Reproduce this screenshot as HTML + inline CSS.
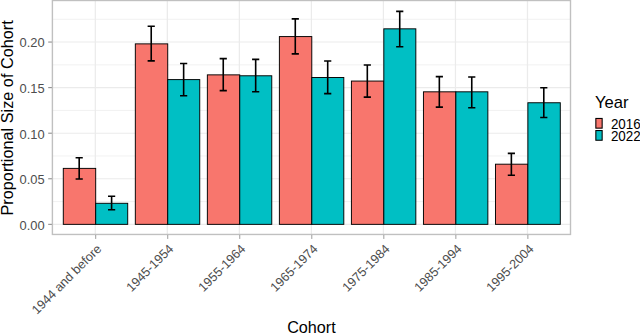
<!DOCTYPE html>
<html><head><meta charset="utf-8"><title>Cohort chart</title>
<style>html,body{margin:0;padding:0;background:#fff;overflow:hidden}body{width:640px;height:334px;position:relative;font-family:"Liberation Sans",sans-serif}</style></head>
<body>
<svg width="640" height="334" viewBox="0 0 640 334" style="display:block;position:absolute;left:0;top:0" font-family="Liberation Sans, sans-serif">
<rect x="0" y="0" width="640" height="334" fill="#fff"/>
<line x1="52.4" x2="570.5" y1="201.56" y2="201.56" stroke="#EBEBEB" stroke-width="0.7"/>
<line x1="52.4" x2="570.5" y1="155.99" y2="155.99" stroke="#EBEBEB" stroke-width="0.7"/>
<line x1="52.4" x2="570.5" y1="110.41" y2="110.41" stroke="#EBEBEB" stroke-width="0.7"/>
<line x1="52.4" x2="570.5" y1="64.84" y2="64.84" stroke="#EBEBEB" stroke-width="0.7"/>
<line x1="52.4" x2="570.5" y1="19.26" y2="19.26" stroke="#EBEBEB" stroke-width="0.7"/>
<line x1="52.4" x2="570.5" y1="224.35" y2="224.35" stroke="#EBEBEB" stroke-width="1.07"/>
<line x1="52.4" x2="570.5" y1="178.77" y2="178.77" stroke="#EBEBEB" stroke-width="1.07"/>
<line x1="52.4" x2="570.5" y1="133.20" y2="133.20" stroke="#EBEBEB" stroke-width="1.07"/>
<line x1="52.4" x2="570.5" y1="87.62" y2="87.62" stroke="#EBEBEB" stroke-width="1.07"/>
<line x1="52.4" x2="570.5" y1="42.05" y2="42.05" stroke="#EBEBEB" stroke-width="1.07"/>
<line x1="95.30" x2="95.30" y1="0.5" y2="234.45" stroke="#EBEBEB" stroke-width="1.25"/>
<line x1="167.33" x2="167.33" y1="0.5" y2="234.45" stroke="#EBEBEB" stroke-width="1.25"/>
<line x1="239.36" x2="239.36" y1="0.5" y2="234.45" stroke="#EBEBEB" stroke-width="1.25"/>
<line x1="311.39" x2="311.39" y1="0.5" y2="234.45" stroke="#EBEBEB" stroke-width="1.25"/>
<line x1="383.42" x2="383.42" y1="0.5" y2="234.45" stroke="#EBEBEB" stroke-width="1.25"/>
<line x1="455.45" x2="455.45" y1="0.5" y2="234.45" stroke="#EBEBEB" stroke-width="1.25"/>
<line x1="527.48" x2="527.48" y1="0.5" y2="234.45" stroke="#EBEBEB" stroke-width="1.25"/>
<rect x="63.29" y="168.38" width="32.41" height="55.97" fill="#F8766D" stroke="#000" stroke-width="0.95"/>
<rect x="95.70" y="203.29" width="32.01" height="21.06" fill="#00BFC4" stroke="#000" stroke-width="0.95"/>
<path d="M75.59 157.81H82.79M79.19 157.81V178.96M75.59 178.96H82.79" fill="none" stroke="#000" stroke-width="1.6"/>
<path d="M108.01 196.18H115.21M111.61 196.18V209.77M108.01 209.77H115.21" fill="none" stroke="#000" stroke-width="1.6"/>
<rect x="135.32" y="43.87" width="32.41" height="180.48" fill="#F8766D" stroke="#000" stroke-width="0.95"/>
<rect x="167.73" y="79.60" width="32.01" height="144.75" fill="#00BFC4" stroke="#000" stroke-width="0.95"/>
<path d="M147.62 26.19H154.82M151.22 26.19V60.83M147.62 60.83H154.82" fill="none" stroke="#000" stroke-width="1.6"/>
<path d="M180.04 63.56H187.24M183.64 63.56V95.74M180.04 95.74H187.24" fill="none" stroke="#000" stroke-width="1.6"/>
<rect x="207.35" y="74.86" width="32.41" height="149.49" fill="#F8766D" stroke="#000" stroke-width="0.95"/>
<rect x="239.76" y="75.78" width="32.01" height="148.57" fill="#00BFC4" stroke="#000" stroke-width="0.95"/>
<path d="M219.65 58.64H226.85M223.25 58.64V90.63M219.65 90.63H226.85" fill="none" stroke="#000" stroke-width="1.6"/>
<path d="M252.07 59.37H259.27M255.67 59.37V91.82M252.07 91.82H259.27" fill="none" stroke="#000" stroke-width="1.6"/>
<rect x="279.38" y="36.58" width="32.41" height="187.77" fill="#F8766D" stroke="#000" stroke-width="0.95"/>
<rect x="311.79" y="77.51" width="32.01" height="146.84" fill="#00BFC4" stroke="#000" stroke-width="0.95"/>
<path d="M291.68 18.90H298.88M295.28 18.90V53.90M291.68 53.90H298.88" fill="none" stroke="#000" stroke-width="1.6"/>
<path d="M324.10 61.01H331.30M327.70 61.01V93.64M324.10 93.64H331.30" fill="none" stroke="#000" stroke-width="1.6"/>
<rect x="351.41" y="81.06" width="32.41" height="143.29" fill="#F8766D" stroke="#000" stroke-width="0.95"/>
<rect x="383.82" y="28.83" width="32.01" height="195.52" fill="#00BFC4" stroke="#000" stroke-width="0.95"/>
<path d="M363.71 65.02H370.91M367.31 65.02V97.10M363.71 97.10H370.91" fill="none" stroke="#000" stroke-width="1.6"/>
<path d="M396.13 11.33H403.33M399.73 11.33V46.79M396.13 46.79H403.33" fill="none" stroke="#000" stroke-width="1.6"/>
<rect x="423.44" y="91.82" width="32.41" height="132.53" fill="#F8766D" stroke="#000" stroke-width="0.95"/>
<rect x="455.85" y="91.82" width="32.01" height="132.53" fill="#00BFC4" stroke="#000" stroke-width="0.95"/>
<path d="M435.74 76.60H442.94M439.34 76.60V107.13M435.74 107.13H442.94" fill="none" stroke="#000" stroke-width="1.6"/>
<path d="M468.16 76.96H475.36M471.76 76.96V107.68M468.16 107.68H475.36" fill="none" stroke="#000" stroke-width="1.6"/>
<rect x="495.47" y="164.19" width="32.41" height="60.16" fill="#F8766D" stroke="#000" stroke-width="0.95"/>
<rect x="527.88" y="102.76" width="32.41" height="121.59" fill="#00BFC4" stroke="#000" stroke-width="0.95"/>
<path d="M507.77 153.34H514.97M511.37 153.34V175.31M507.77 175.31H514.97" fill="none" stroke="#000" stroke-width="1.6"/>
<path d="M540.19 87.81H547.39M543.79 87.81V117.52M540.19 117.52H547.39" fill="none" stroke="#000" stroke-width="1.6"/>
<rect x="52.4" y="0.5" width="518.1" height="233.95" fill="none" stroke="#C0C0C0" stroke-width="1.4"/>
<line x1="48.20" x2="51.90" y1="224.35" y2="224.35" stroke="#8c8c8c" stroke-width="1.07"/>
<text transform="translate(44.70,229.70) scale(1,1.05)" font-size="12.9" fill="#4D4D4D" text-anchor="end">0.00</text>
<line x1="48.20" x2="51.90" y1="178.77" y2="178.77" stroke="#8c8c8c" stroke-width="1.07"/>
<text transform="translate(44.70,184.12) scale(1,1.05)" font-size="12.9" fill="#4D4D4D" text-anchor="end">0.05</text>
<line x1="48.20" x2="51.90" y1="133.20" y2="133.20" stroke="#8c8c8c" stroke-width="1.07"/>
<text transform="translate(44.70,138.55) scale(1,1.05)" font-size="12.9" fill="#4D4D4D" text-anchor="end">0.10</text>
<line x1="48.20" x2="51.90" y1="87.62" y2="87.62" stroke="#8c8c8c" stroke-width="1.07"/>
<text transform="translate(44.70,92.97) scale(1,1.05)" font-size="12.9" fill="#4D4D4D" text-anchor="end">0.15</text>
<line x1="48.20" x2="51.90" y1="42.05" y2="42.05" stroke="#8c8c8c" stroke-width="1.07"/>
<text transform="translate(44.70,47.40) scale(1,1.05)" font-size="12.9" fill="#4D4D4D" text-anchor="end">0.20</text>
<line x1="95.70" x2="95.70" y1="234.95" y2="238.95" stroke="#8c8c8c" stroke-width="0.85"/>
<text transform="translate(95.70,243.05) rotate(-45)" font-size="12.7" fill="#4D4D4D" text-anchor="end" y="9.3">1944 and before</text>
<line x1="167.73" x2="167.73" y1="234.95" y2="238.95" stroke="#8c8c8c" stroke-width="0.85"/>
<text transform="translate(167.73,243.05) rotate(-45)" font-size="12.7" fill="#4D4D4D" text-anchor="end" y="9.3">1945-1954</text>
<line x1="239.76" x2="239.76" y1="234.95" y2="238.95" stroke="#8c8c8c" stroke-width="0.85"/>
<text transform="translate(239.76,243.05) rotate(-45)" font-size="12.7" fill="#4D4D4D" text-anchor="end" y="9.3">1955-1964</text>
<line x1="311.79" x2="311.79" y1="234.95" y2="238.95" stroke="#8c8c8c" stroke-width="0.85"/>
<text transform="translate(311.79,243.05) rotate(-45)" font-size="12.7" fill="#4D4D4D" text-anchor="end" y="9.3">1965-1974</text>
<line x1="383.82" x2="383.82" y1="234.95" y2="238.95" stroke="#8c8c8c" stroke-width="0.85"/>
<text transform="translate(383.82,243.05) rotate(-45)" font-size="12.7" fill="#4D4D4D" text-anchor="end" y="9.3">1975-1984</text>
<line x1="455.85" x2="455.85" y1="234.95" y2="238.95" stroke="#8c8c8c" stroke-width="0.85"/>
<text transform="translate(455.85,243.05) rotate(-45)" font-size="12.7" fill="#4D4D4D" text-anchor="end" y="9.3">1985-1994</text>
<line x1="527.88" x2="527.88" y1="234.95" y2="238.95" stroke="#8c8c8c" stroke-width="0.85"/>
<text transform="translate(527.88,243.05) rotate(-45)" font-size="12.7" fill="#4D4D4D" text-anchor="end" y="9.3">1995-2004</text>
<text x="311.45" y="332.7" font-size="16.2" fill="#000" text-anchor="middle">Cohort</text>
<text transform="translate(13.1,117.88) rotate(-90)" font-size="16.27" fill="#000" text-anchor="middle">Proportional Size of Cohort</text>
<text x="594.9" y="107.7" font-size="16.6" fill="#000">Year</text>
<rect x="595.85" y="118.45" width="6.3" height="9.7" fill="#F8766D" stroke="#000" stroke-width="1.07"/>
<rect x="595.85" y="130.55" width="6.3" height="9.7" fill="#00BFC4" stroke="#000" stroke-width="1.07"/>
<text transform="translate(610.9,128.6) scale(1,1.04)" font-size="13.4" fill="#000">2016</text>
<text transform="translate(610.9,140.6) scale(1,1.04)" font-size="13.4" fill="#000">2022</text>
</svg>
</body></html>
